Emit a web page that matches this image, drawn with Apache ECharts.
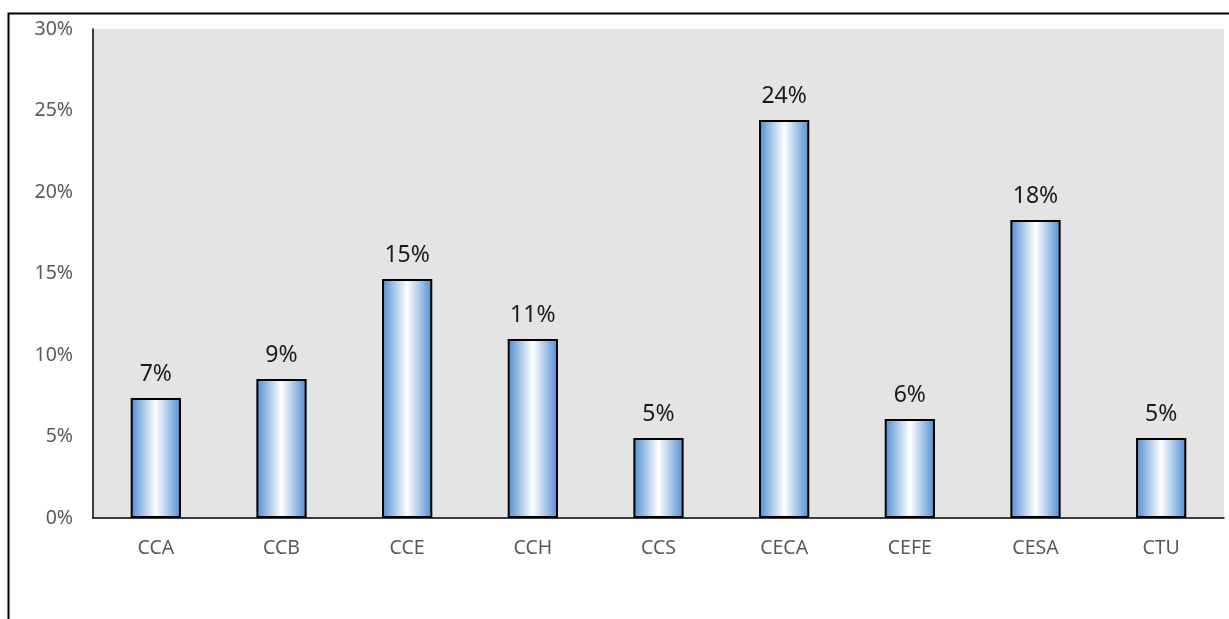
<!DOCTYPE html>
<html>
<head>
<meta charset="utf-8">
<script src="https://cdn.jsdelivr.net/npm/echarts@6/dist/echarts.min.js"></script>
<style>
html,body{margin:0;padding:0;background:#fff;}
#chart{width:1229px;height:619px;}
</style>
</head>
<body>
<div id="chart"></div>
<script>
const categories = ['CCA','CCB','CCE','CCH','CCS','CECA','CEFE','CESA','CTU'];
const values = [7.36, 8.53, 14.66, 10.98, 4.91, 24.42, 6.07, 18.28, 4.91];
const yTicks = [0, 5, 10, 15, 20, 25, 30];

const chart = echarts.init(document.getElementById('chart'));
const font = 'Noto Sans';
chart.setOption({
  animation: false,
  backgroundColor: '#fff',
  graphic: [{
    type: 'rect', left: 6, top: 11, z: 100, silent: true,
    shape: {width: 1400, height: 800},
    style: {fill: 'none', stroke: '#000', lineWidth: 2}
  }],
  grid: {left: 93, right: 5, top: 29, bottom: 101, backgroundColor: '#e4e4e4', show: true, borderWidth: 0},
  xAxis: {
    type: 'category', data: categories,
    axisLine: {show: true, lineStyle: {color: '#000', width: 1.5}},
    axisTick: {show: false},
    axisLabel: {color: '#595959', fontFamily: font, fontSize: 19.5, margin: 20}
  },
  yAxis: {
    type: 'value', min: yTicks[0], max: yTicks[yTicks.length-1], interval: 5,
    axisLine: {show: true, lineStyle: {color: '#000', width: 1.5}},
    axisTick: {show: false},
    splitLine: {show: false},
    axisLabel: {color: '#595959', fontFamily: font, fontSize: 19.5, margin: 20, formatter: v => v + '%'}
  },
  series: [{
    type: 'bar', data: values, barWidth: '40%',
    itemStyle: {
      borderColor: '#000', borderWidth: 2,
      color: new echarts.graphic.LinearGradient(0, 0, 1, 0, [
        {offset: 0, color: '#4f8dd2'},
        {offset: 0.5, color: '#ffffff'},
        {offset: 1, color: '#4f8dd2'}
      ])
    },
    label: {show: true, position: 'top', distance: 12, color: '#1a1a1a', fontFamily: font, fontSize: 23,
      formatter: p => Math.round(p.value) + '%'}
  }]
});
</script>
</body>
</html>
